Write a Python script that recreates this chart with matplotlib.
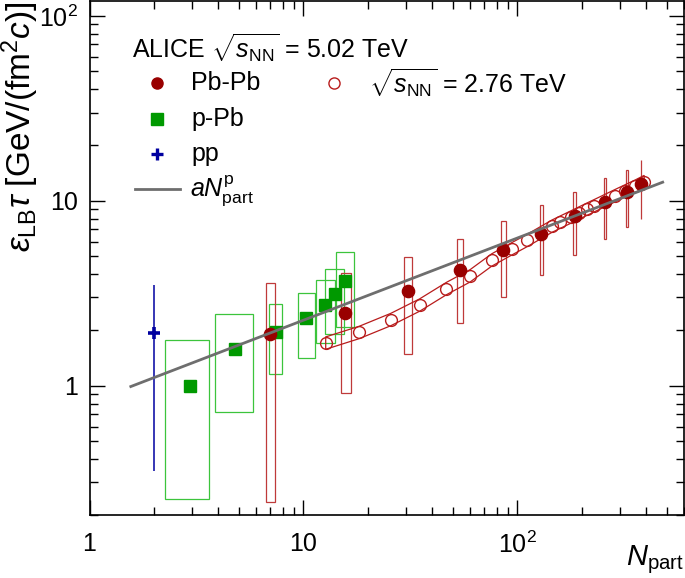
import numpy as np
import matplotlib
matplotlib.use('Agg')
from matplotlib import pyplot
from matplotlib.patches import Rectangle
from matplotlib.ticker import FixedLocator, NullFormatter, LogLocator


pyplot.rcParams['font.family'] = ['Liberation Sans', 'DejaVu Sans']
pyplot.rcParams['mathtext.fontset'] = 'custom'
pyplot.rcParams['mathtext.rm'] = 'Liberation Sans'
pyplot.rcParams['mathtext.it'] = 'Liberation Sans:italic'
pyplot.rcParams['mathtext.bf'] = 'Liberation Sans:bold'


# Pb-Pb 5.02 TeV
pbpb_npart = [6.99, 15.7, 30.8, 53.8, 85.4, 129, 185, 256, 324, 377]
pbpb_eps = [1.91, 2.48, 3.24, 4.20, 5.44, 6.65, 8.23, 9.84, 11.1, 12.3]
pbpb_box_xlo = [6.67, 15.0, 29.5, 52.0, 83.9, 127, 182, 254, 322, 377]
pbpb_box_xhi = [7.33, 16.6, 32.3, 55.8, 88.2, 131, 188, 259, 327, 377]
pbpb_box_ylo = [0.234, 0.91, 1.49, 2.17, 3.01, 3.96, 5.07, 6.19, 7.22, 7.93]
pbpb_box_yhi = [3.58, 4.06, 4.99, 6.22, 7.82, 9.44, 11.2, 13.2, 14.7, 16.6]

# p-Pb 5.02 TeV
ppb_npart = [2.94, 4.80, 7.42, 10.3, 12.6, 14.0, 15.7]
ppb_eps = [1.00, 1.58, 1.94, 2.31, 2.72, 3.12, 3.69]
ppb_box_xlo = [2.26, 3.86, 6.88, 9.44, 11.4, 12.6, 14.2]
ppb_box_xhi = [3.62, 5.78, 7.95, 11.3, 14.0, 15.4, 17.3]
ppb_box_ylo = [0.245, 0.72, 1.15, 1.42, 1.70, 1.90, 2.08]
ppb_box_yhi = [1.76, 2.44, 2.75, 3.19, 3.75, 4.29, 5.26]

# pp 5.02 TeV
pp_npart = [2.0]
pp_eps = [1.93]
pp_ylo = [0.344]
pp_yhi = [3.51]

# Pb-Pb 2.76 TeV
pb276_npart = [12.7, 18.2, 25.6, 34.9, 46.5, 60.1, 75.7, 94.4, 111, 145, 158,
               177, 193, 211, 227, 286, 318, 355, 391]
pb276_eps = [1.70, 1.94, 2.28, 2.73, 3.35, 3.93, 4.78, 5.51, 6.10, 7.29, 7.65,
             8.15, 8.56, 9.00, 9.37, 10.66, 11.3, 12.0, 12.7]
pb276_sys = 0.08

# power law fit a*Npart^p, end points
fit_npart = [1.56, 477]
fit_eps = [0.99, 12.6]


red_dark = '#990000'
red_box = '#bf3a3a'
red_open = '#b81c1c'
green = '#009900'
green_box = '#3cc43c'
blue = '#0000a0'
gray = '#6e6e6e'

fig = pyplot.figure(figsize=(6.85, 5.78), dpi=100)
ax = fig.add_axes([89.5/685, 1-515/578, (684-89.5)/685, 515/578 - 0.002])

ax.set_xscale('log')
ax.set_yscale('log')
ax.set_xlim(1, 600)
ax.set_ylim(0.2, 120)

# systematic boxes
for _i in range(len(ppb_npart)):
    ax.add_patch(Rectangle((ppb_box_xlo[_i], ppb_box_ylo[_i]),
                           ppb_box_xhi[_i]-ppb_box_xlo[_i],
                           ppb_box_yhi[_i]-ppb_box_ylo[_i],
                           fill=False, edgecolor=green_box, lw=0.9, zorder=2))

for _i in range(len(pbpb_npart)):
    ax.add_patch(Rectangle((pbpb_box_xlo[_i], pbpb_box_ylo[_i]),
                           pbpb_box_xhi[_i]-pbpb_box_xlo[_i],
                           pbpb_box_yhi[_i]-pbpb_box_ylo[_i],
                           fill=False, edgecolor=red_box, lw=0.9, zorder=2))

# 2.76 TeV band
x276 = np.array(pb276_npart)
y276 = np.array(pb276_eps)
band_x = np.concatenate([x276, x276[::-1]])
band_y = np.concatenate([y276*(1+pb276_sys), (y276/(1+pb276_sys))[::-1]])
ax.fill(band_x, band_y, facecolor='none', edgecolor=red_open, lw=0.9, zorder=3)
ax.plot(x276, y276, 'o', mfc='none', mec=red_open, mew=1.0, ms=8.5,
        ls='none', zorder=4)

# pp
ax.vlines(pp_npart, pp_ylo, pp_yhi, color=blue, lw=1.1, zorder=4)
ax.plot(pp_npart, pp_eps, '+', color=blue, ms=9, mew=2.6, zorder=5)

ax.plot(ppb_npart, ppb_eps, 's', color=green, ms=8.8, ls='none', zorder=5)
ax.plot(pbpb_npart, pbpb_eps, 'o', color=red_dark, ms=8.8, ls='none', zorder=6)

ax.plot(fit_npart, fit_eps, '-', color=gray, lw=2.0, zorder=7)

# axes style
for spine in ax.spines.values():
    spine.set_linewidth(1.2)
ax.xaxis.set_major_locator(FixedLocator([1, 10, 100]))
ax.yaxis.set_major_locator(FixedLocator([1, 10, 100]))
ax.xaxis.set_minor_locator(LogLocator(base=10, subs=np.arange(2, 10)))
ax.yaxis.set_minor_locator(LogLocator(base=10, subs=np.arange(2, 10)))
ax.xaxis.set_minor_formatter(NullFormatter())
ax.yaxis.set_minor_formatter(NullFormatter())
ax.set_xticklabels(['1', '10', '$10^2$'])
ax.set_yticklabels(['1', '10', '$10^2$'])
ax.tick_params(which='both', direction='in', top=True, right=True, width=1.0)
ax.tick_params(which='major', length=10.5)
ax.tick_params(which='minor', length=5.5)
ax.tick_params(axis='x', which='major', labelsize=18, pad=12)
ax.tick_params(axis='y', which='major', labelsize=18, pad=8)

fig.text(0.030, 0.998, r'$\varepsilon_{\rm LB}\tau$ [GeV/(fm$^2$$c$)]',
         rotation=90, ha='center', va='top', fontsize=24)
fig.text(0.999, 0.003, r'$N_{\rm part}$', ha='right', va='bottom', fontsize=21)

# legend, drawn by hand
def axfrac(px, py):
    return (px-89.5)/594.5, (515-py)/515

tx, ty = axfrac(132, 47)
ax.text(tx, ty, r'ALICE $\sqrt{s_{\rm NN}}$ = 5.02 TeV', transform=ax.transAxes,
        ha='left', va='center', fontsize=18)

mx, my = axfrac(157, 82.5)
ax.plot([mx], [my], 'o', color=red_dark, ms=8, transform=ax.transAxes, clip_on=False)
tx, ty = axfrac(191, 82.5)
ax.text(tx, ty, 'Pb-Pb', transform=ax.transAxes, ha='left', va='center', fontsize=18)

mx, my = axfrac(157, 118)
ax.plot([mx], [my], 's', color=green, ms=8, transform=ax.transAxes, clip_on=False)
tx, ty = axfrac(191, 118)
ax.text(tx, ty, 'p-Pb', transform=ax.transAxes, ha='left', va='center', fontsize=18)

mx, my = axfrac(157, 153)
ax.plot([mx], [my], '+', color=blue, ms=8, mew=2.4, transform=ax.transAxes, clip_on=False)
tx, ty = axfrac(191, 153)
ax.text(tx, ty, 'pp', transform=ax.transAxes, ha='left', va='center', fontsize=18)

lx0, ly = axfrac(135, 188)
lx1, _ = axfrac(180, 188)
ax.plot([lx0, lx1], [ly, ly], '-', color=gray, lw=2.0, transform=ax.transAxes, clip_on=False)
tx, ty = axfrac(190, 190)
ax.text(tx, ty, r'$aN_{\rm part}^{\rm p}$', transform=ax.transAxes,
        ha='left', va='center', fontsize=18)

mx, my = axfrac(334, 82.5)
ax.plot([mx], [my], 'o', mfc='none', mec=red_open, mew=1.0, ms=8,
        transform=ax.transAxes, clip_on=False)
tx, ty = axfrac(369, 82.5)
ax.text(tx, ty, r'$\sqrt{s_{\rm NN}}$ = 2.76 TeV', transform=ax.transAxes,
        ha='left', va='center', fontsize=18)

pyplot.savefig('out.png', dpi=100)
